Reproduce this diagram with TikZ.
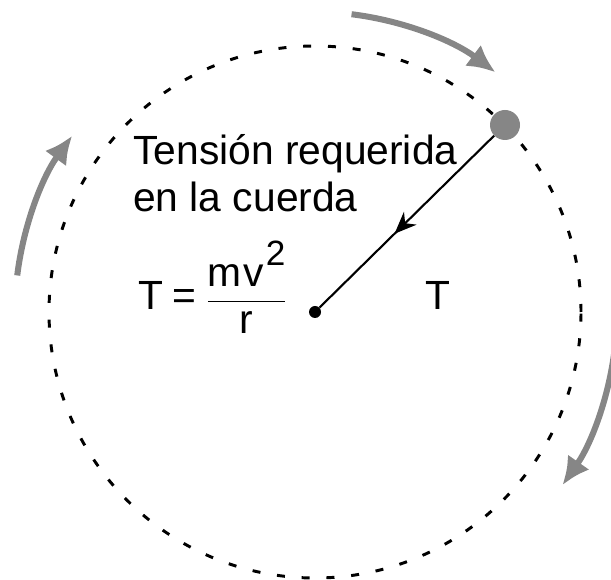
\documentclass[tikz,border=0pt]{standalone}
\usepackage{amsmath}
\usepackage{fontspec}
\setmainfont{Liberation Sans}
\usepackage{tikz}
\usetikzlibrary{arrows.meta}
\usetikzlibrary{decorations.markings}

\tikzset{
  giro/.style={line width=4.3pt,color=gray!95,-{Latex[length=0.7cm,width=0.66cm]}},
  orbita/.style={line width=2.1pt,dash pattern=on 0.2cm off 0.42cm},
  cuerda/.style={line width=1.5pt,decoration={markings,
      mark=at position 0.57 with {\arrow{Stealth[length=0.55cm,width=0.45cm]}}},
      postaction={decorate}},
  rotulo/.style={inner sep=0pt,font=\fontsize{29}{33.5}\selectfont}
}

\begin{document}
\begin{tikzpicture}[x=0.025cm,y=0.025cm]
  \useasboundingbox (0,0) rectangle (611,579);
  % orbit
  \draw[orbita] (315,267) circle (266);
  % sense of motion
  \draw[giro] (315,267) ++(83:300) arc[start angle=83, end angle=53, radius=300];
  \draw[giro] (315,267) ++(173:300) arc[start angle=173, end angle=144, radius=300];
  \draw[giro] (315,267) ++(-6:302) arc[start angle=-6, end angle=-35, radius=302];
  % ball and centre
  \node[circle,fill=gray!95,minimum size=0.75cm,inner sep=0pt] (bola) at (505,454) {};
  \node[circle,fill=black,minimum size=0.3cm,inner sep=0pt] (centro) at (315,267) {};
  \draw[cuerda] (bola) -- (centro);
  % labels
  \node[rotulo,anchor=base west,align=left] (texto) at (133,367)
    {Tensión requerida\\en la cuerda};
  \node[rotulo,anchor=base west] (formula) at (138,269)
    {T\kern0.22em=\kern0.25em$\dfrac{\text{m\kern0.03em v\kern0.06em\raisebox{0.5em}{\fontsize{25}{25}\selectfont 2}}}{\text{r}}$};
  \node[rotulo,anchor=base west] (tension) at (425,269) {T};
\end{tikzpicture}
\end{document}
